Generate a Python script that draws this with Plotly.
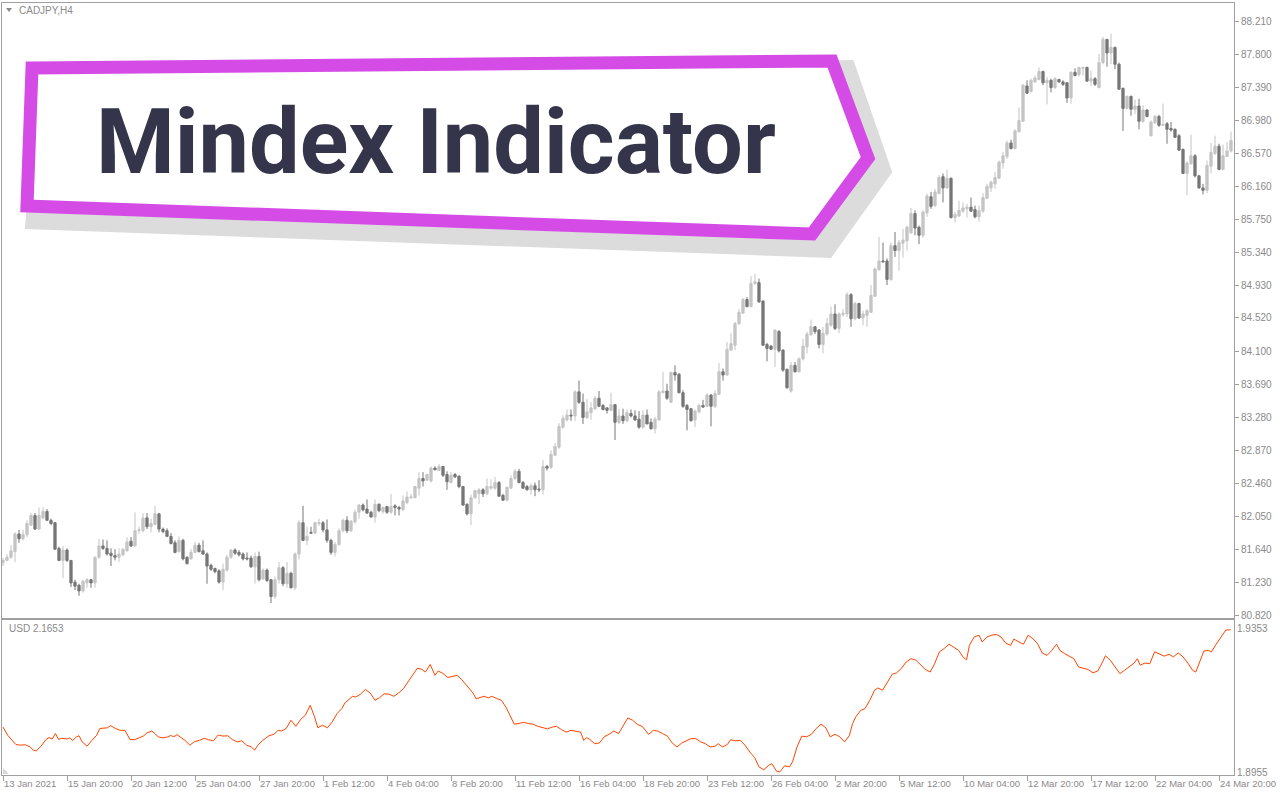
import plotly.graph_objects as go

W, H = 1280, 800

# ---------------- data ----------------
OPEN = [81.47,81.50,81.54,81.61,81.83,81.77,81.82,81.94,82.06,81.89,
        82.03,82.11,82.00,81.97,81.65,81.50,81.63,81.50,81.23,81.19,
        81.12,81.22,81.26,81.22,81.54,81.68,81.65,81.59,81.56,81.54,
        81.57,81.62,81.74,81.68,81.87,81.87,82.03,81.92,81.95,82.08,
        81.89,81.87,81.80,81.72,81.61,81.75,81.54,81.52,81.60,81.69,
        81.62,81.58,81.44,81.40,81.37,81.23,81.38,81.54,81.63,81.60,
        81.58,81.53,81.53,81.42,81.55,81.27,81.38,81.26,81.05,81.26,
        81.41,81.21,81.34,81.16,81.58,81.97,81.75,81.85,81.84,81.96,
        81.97,81.88,81.75,81.60,81.70,81.87,82.00,81.87,81.98,82.10,
        82.19,82.14,82.10,82.04,82.20,82.11,82.17,82.10,82.18,82.16,
        82.13,82.22,82.28,82.28,82.40,82.52,82.50,82.49,82.65,82.62,
        82.67,82.57,82.47,82.57,82.55,82.42,82.20,82.08,82.28,82.33,
        82.38,82.33,82.40,82.40,82.47,82.31,82.25,82.40,82.52,82.61,
        82.47,82.42,82.38,82.43,82.39,82.38,82.67,82.66,82.81,82.91,
        83.16,83.25,83.31,83.30,83.60,83.47,83.28,83.34,83.39,83.52,
        83.43,83.40,83.37,83.44,83.22,83.30,83.24,83.33,83.30,83.26,
        83.16,83.31,83.22,83.14,83.25,83.59,83.61,83.47,83.84,83.82,
        83.59,83.43,83.39,83.25,83.35,83.43,83.42,83.56,83.42,83.57,
        83.85,83.81,84.12,84.18,84.45,84.58,84.75,84.66,84.95,84.96,
        84.73,84.19,84.17,84.13,84.35,84.12,83.88,83.61,83.93,83.85,
        84.01,84.16,84.31,84.41,84.37,84.19,84.32,84.43,84.57,84.39,
        84.56,84.57,84.81,84.51,84.70,84.52,84.55,84.59,84.79,85.12,
        85.23,85.23,85.00,85.42,85.36,85.45,85.48,85.58,85.82,85.65,
        85.55,85.83,86.03,85.92,86.07,86.28,86.14,86.26,85.77,85.79,
        85.85,85.88,85.90,85.87,85.78,85.85,86.01,86.14,86.19,86.26,
        86.45,86.53,86.70,86.63,86.84,86.97,87.41,87.34,87.46,87.49,
        87.59,87.45,87.48,87.39,87.49,87.46,87.45,87.26,87.58,87.55,
        87.63,87.64,87.47,87.50,87.39,87.70,87.99,87.82,87.89,87.68,
        87.38,87.13,87.28,87.12,87.16,86.97,87.11,86.79,86.95,87.03,
        86.92,86.94,86.88,86.87,86.79,86.62,86.32,86.44,86.54,86.29,
        86.14,86.11,86.41,86.57,86.66,86.37,86.53,86.60]
HIGH = [81.53,81.58,81.69,81.85,81.88,81.88,82.00,82.09,82.09,82.16,
        82.16,82.14,82.02,81.98,81.67,81.68,81.65,81.50,81.26,81.21,
        81.26,81.28,81.27,81.55,81.77,81.76,81.75,81.65,81.64,81.65,
        81.65,81.79,81.79,82.10,81.92,82.09,82.09,82.02,82.18,82.09,
        81.91,81.90,81.84,81.75,81.80,81.77,81.55,81.64,81.73,81.72,
        81.75,81.60,81.46,81.41,81.39,81.46,81.57,81.64,81.65,81.63,
        81.60,81.60,81.56,81.60,81.61,81.40,81.40,81.27,81.30,81.48,
        81.43,81.48,81.36,81.60,82.00,82.18,81.92,81.92,81.98,82.02,
        81.99,82.01,81.77,81.73,81.90,82.02,82.05,82.00,82.13,82.20,
        82.21,82.26,82.12,82.26,82.21,82.17,82.18,82.33,82.20,82.18,
        82.31,82.36,82.33,82.43,82.60,82.60,82.58,82.67,82.67,82.70,
        82.67,82.61,82.60,82.59,82.56,82.42,82.21,82.32,82.38,82.40,
        82.40,82.52,82.51,82.54,82.49,82.33,82.42,82.56,82.64,82.64,
        82.49,82.44,82.46,82.47,82.50,82.75,82.69,82.87,82.96,83.21,
        83.31,83.38,83.38,83.62,83.74,83.58,83.51,83.47,83.55,83.61,
        83.45,83.41,83.59,83.45,83.39,83.39,83.38,83.38,83.37,83.36,
        83.37,83.38,83.27,83.29,83.62,83.85,83.70,83.85,83.93,83.83,
        83.62,83.45,83.40,83.38,83.45,83.50,83.58,83.57,83.62,83.96,
        83.89,84.22,84.33,84.47,84.63,84.77,84.78,85.04,85.07,85.01,
        84.74,84.21,84.18,84.38,84.37,84.13,83.89,83.97,83.97,84.03,
        84.26,84.35,84.50,84.42,84.38,84.41,84.52,84.66,84.69,84.59,
        84.63,84.84,84.83,84.72,84.71,84.61,84.63,84.93,85.15,85.53,
        85.46,85.26,85.46,85.59,85.49,85.63,85.67,85.89,85.86,85.67,
        85.86,86.07,86.09,86.13,86.30,86.32,86.37,86.27,85.84,85.98,
        85.96,85.94,86.02,85.92,85.92,86.07,86.19,86.23,86.34,86.48,
        86.59,86.73,86.74,86.87,87.14,87.43,87.48,87.50,87.54,87.64,
        87.60,87.52,87.50,87.52,87.50,87.48,87.46,87.59,87.63,87.65,
        87.65,87.65,87.60,87.52,87.81,88.02,87.99,88.06,87.90,87.70,
        87.39,87.29,87.29,87.24,87.25,87.17,87.12,86.98,87.05,87.05,
        87.19,86.96,86.96,86.88,86.81,86.63,86.47,86.80,86.56,86.30,
        86.19,86.48,86.70,86.79,86.69,86.68,86.71,86.84]
LOW = [81.43,81.49,81.52,81.48,81.72,81.75,81.79,81.93,81.88,81.89,
       82.01,81.99,81.94,81.63,81.49,81.28,81.48,81.17,81.13,81.06,
       81.10,81.16,81.16,81.16,81.52,81.63,81.56,81.43,81.50,81.48,
       81.55,81.61,81.67,81.68,81.83,81.85,81.89,81.85,81.94,81.85,
       81.84,81.79,81.70,81.59,81.60,81.50,81.45,81.51,81.59,81.60,
       81.57,81.21,81.37,81.34,81.21,81.13,81.36,81.52,81.57,81.55,
       81.50,81.50,81.41,81.21,81.24,81.26,81.23,80.97,81.02,81.21,
       81.18,81.16,81.15,81.13,81.51,81.74,81.69,81.84,81.83,81.93,
       81.85,81.72,81.57,81.55,81.68,81.85,81.84,81.85,81.96,82.02,
       82.11,82.08,82.04,81.97,82.10,82.08,82.08,82.08,82.06,82.06,
       82.12,82.20,82.27,82.28,82.31,82.42,82.49,82.47,82.62,82.62,
       82.54,82.38,82.46,82.53,82.40,82.18,82.06,81.94,82.27,82.20,
       82.29,82.31,82.38,82.38,82.29,82.24,82.25,82.39,82.50,82.46,
       82.39,82.37,82.32,82.30,82.35,82.32,82.62,82.64,82.80,82.89,
       83.14,83.23,83.24,83.24,83.45,83.20,83.26,83.25,83.37,83.41,
       83.37,83.33,83.36,83.00,83.20,83.20,83.22,83.28,83.24,83.14,
       83.14,83.20,83.13,83.08,83.24,83.58,83.50,83.47,83.74,83.58,
       83.40,83.12,83.23,83.16,83.33,83.40,83.41,83.17,83.40,83.56,
       83.74,83.80,84.11,84.12,84.43,84.57,84.66,84.66,84.93,84.71,
       84.18,83.98,84.12,83.91,84.09,83.85,83.64,83.59,83.84,83.84,
       83.99,84.08,84.30,84.32,84.14,84.08,84.30,84.41,84.37,84.33,
       84.54,84.53,84.41,84.49,84.51,84.43,84.41,84.58,84.78,85.11,
       85.21,84.93,84.98,85.28,85.11,85.27,85.36,85.57,85.55,85.44,
       85.52,85.78,85.88,85.90,86.06,85.96,86.13,85.76,85.71,85.78,
       85.83,85.77,85.84,85.76,85.72,85.83,86.00,86.09,86.13,86.25,
       86.38,86.50,86.62,86.63,86.83,86.96,87.31,87.33,87.45,87.48,
       87.42,87.18,87.33,87.37,87.45,87.41,87.20,87.19,87.53,87.53,
       87.54,87.46,87.41,87.41,87.38,87.68,87.65,87.68,87.62,87.36,
       86.85,87.12,87.04,87.06,86.87,86.95,87.02,86.78,86.94,86.90,
       86.92,86.69,86.84,86.76,86.60,86.32,86.05,86.43,86.27,86.13,
       86.06,86.07,86.32,86.55,86.36,86.36,86.53,86.58]
CLOSE = [81.50,81.54,81.62,81.83,81.77,81.82,81.96,82.06,81.89,82.06,
         82.11,82.00,81.96,81.64,81.50,81.63,81.50,81.22,81.18,81.12,
         81.24,81.26,81.22,81.54,81.68,81.65,81.58,81.56,81.54,81.58,
         81.64,81.73,81.68,81.87,81.88,82.03,81.92,81.96,82.08,81.89,
         81.86,81.80,81.71,81.60,81.75,81.52,81.46,81.60,81.69,81.61,
         81.58,81.43,81.39,81.36,81.23,81.39,81.54,81.63,81.59,81.57,
         81.52,81.52,81.42,81.55,81.26,81.38,81.25,81.05,81.26,81.41,
         81.21,81.34,81.16,81.58,81.97,81.75,81.80,81.84,81.97,81.97,
         81.88,81.75,81.60,81.70,81.87,82.00,81.87,81.99,82.10,82.19,
         82.13,82.09,82.04,82.20,82.12,82.16,82.10,82.17,82.16,82.14,
         82.24,82.29,82.29,82.42,82.52,82.49,82.57,82.65,82.63,82.67,
         82.56,82.48,82.56,82.54,82.42,82.19,82.08,82.28,82.37,82.38,
         82.33,82.42,82.42,82.47,82.30,82.25,82.41,82.52,82.61,82.47,
         82.40,82.38,82.43,82.38,82.38,82.67,82.65,82.82,82.92,83.17,
         83.27,83.31,83.30,83.60,83.47,83.28,83.35,83.40,83.52,83.42,
         83.38,83.37,83.44,83.22,83.30,83.24,83.34,83.30,83.25,83.16,
         83.31,83.20,83.14,83.26,83.60,83.61,83.52,83.84,83.81,83.59,
         83.42,83.38,83.24,83.36,83.43,83.41,83.56,83.42,83.58,83.85,
         83.81,84.13,84.20,84.45,84.59,84.75,84.66,84.95,84.97,84.72,
         84.18,84.14,84.13,84.37,84.11,83.87,83.65,83.93,83.85,84.01,
         84.17,84.32,84.41,84.35,84.19,84.33,84.45,84.57,84.39,84.57,
         84.58,84.81,84.51,84.70,84.52,84.57,84.61,84.80,85.13,85.23,
         85.22,85.00,85.42,85.36,85.46,85.49,85.65,85.82,85.64,85.55,
         85.84,86.04,85.91,86.09,86.27,86.14,86.26,85.77,85.81,85.86,
         85.89,85.90,85.85,85.78,85.86,86.02,86.16,86.21,86.27,86.46,
         86.54,86.70,86.63,86.85,86.98,87.42,87.32,87.48,87.51,87.59,
         87.45,87.48,87.39,87.50,87.46,87.43,87.26,87.58,87.54,87.64,
         87.64,87.47,87.50,87.43,87.70,87.99,87.82,87.89,87.68,87.37,
         87.13,87.28,87.12,87.16,86.97,87.11,87.03,86.96,87.03,86.92,
         86.93,86.87,86.86,86.77,86.61,86.32,86.45,86.54,86.29,86.14,
         86.11,86.42,86.58,86.66,86.37,86.54,86.60,86.73]
BAR = list(range(len(CLOSE)))

TICK_BARS = [0, 16, 32, 48, 64, 80, 96, 112, 128, 144, 160, 176, 192, 208,
             224, 240, 256, 272, 288, 304]
TICK_TEXT = ["13 Jan 2021", "15 Jan 20:00", "20 Jan 12:00", "25 Jan 04:00",
             "27 Jan 20:00", "1 Feb 12:00", "4 Feb 04:00", "8 Feb 20:00",
             "11 Feb 12:00", "16 Feb 04:00", "18 Feb 20:00", "23 Feb 12:00",
             "26 Feb 04:00", "2 Mar 20:00", "5 Mar 12:00", "10 Mar 04:00",
             "12 Mar 20:00", "17 Mar 12:00", "22 Mar 04:00", "24 Mar 20:00"]
PRICE_TICKS = [88.210, 87.800, 87.390, 86.980, 86.570, 86.160, 85.750, 85.340,
               84.930, 84.520, 84.100, 83.690, 83.280, 82.870, 82.460, 82.050,
               81.640, 81.230, 80.820]
IND_TICKS = [1.9353, 1.8955]

IND_X = [0.0,1.2,3.2,4.2,5.6,6.8,7.6,8.3,9.5,10.7,11.5,12.3,13.1,13.9,14.7,15.9,
         16.7,17.4,18.4,19.0,19.8,21.0,22.2,23.4,24.2,25.3,26.1,26.9,28.1,29.3,
         30.5,31.7,32.9,34.0,35.2,36.0,37.2,38.0,38.8,40.0,41.2,41.9,42.7,43.5,
         44.3,45.5,46.7,47.9,49.1,50.3,51.4,52.6,53.8,55.0,56.2,57.4,58.6,59.7,
         60.9,62.1,62.9,63.7,64.9,66.5,67.7,68.8,69.6,70.8,72.0,73.2,74.4,75.6,
         76.8,77.9,78.7,79.9,81.1,82.3,83.5,84.7,85.5,86.2,87.4,88.2,89.4,90.6,
         91.8,93.0,94.1,95.3,96.5,97.7,98.9,100.1,101.3,102.5,103.6,104.8,105.6,
         106.8,108.0,108.8,110.0,111.2,112.3,113.5,114.7,115.5,116.7,117.5,118.3,
         119.1,120.2,121.4,122.2,123.4,124.6,125.8,126.6,127.8,129.0,130.1,131.3,
         132.5,133.7,134.9,136.1,137.3,138.4,139.6,140.8,142.0,143.2,144.4,145.2,
         145.9,146.7,147.9,149.1,150.3,151.5,152.7,153.9,155.0,156.2,157.4,158.6,
         159.8,161.4,162.6,163.7,164.9,166.1,167.3,168.5,169.7,170.9,172.0,173.2,
         174.4,175.6,176.8,178.0,178.8,179.9,181.1,181.9,183.1,184.3,185.5,186.7,
         187.9,189.0,190.2,191.4,192.2,193.4,194.2,195.4,196.6,197.4,198.5,199.7,
         200.9,202.1,203.3,204.5,205.7,206.8,208.0,209.2,210.4,211.6,212.4,213.2,
         214.4,215.5,216.7,217.9,218.7,219.9,221.1,222.3,223.4,224.6,225.8,227.0,
         228.2,229.4,230.6,231.8,232.9,234.1,235.3,236.5,237.7,238.9,240.1,240.9,
         241.6,242.8,244.0,244.8,246.0,247.2,248.4,249.5,250.7,251.9,252.7,253.9,
         255.1,256.3,257.5,258.6,259.8,261.0,262.2,263.4,264.2,265.4,266.6,267.7,
         268.9,270.1,271.3,272.5,273.7,274.9,275.6,276.8,278.0,279.2,280.4,281.6,
         282.8,283.6,284.3,285.5,286.7,287.9,289.1,290.3,291.5,292.6,293.8,295.0,
         296.2,297.4,298.2,299.4,300.2,301.3,302.1,303.3,304.5,305.7,306.9]
IND_V = [1.9080,1.9057,1.9032,1.9030,1.9031,1.9025,1.9016,1.9014,1.9027,1.9045,
         1.9051,1.9047,1.9062,1.9046,1.9049,1.9047,1.9050,1.9043,1.9053,1.9056,
         1.9039,1.9027,1.9043,1.9057,1.9076,1.9077,1.9078,1.9084,1.9076,1.9071,
         1.9071,1.9046,1.9045,1.9050,1.9056,1.9064,1.9069,1.9062,1.9053,1.9050,
         1.9053,1.9057,1.9053,1.9059,1.9053,1.9043,1.9030,1.9040,1.9043,1.9049,
         1.9045,1.9042,1.9058,1.9055,1.9056,1.9045,1.9039,1.9042,1.9030,1.9025,
         1.9016,1.9030,1.9043,1.9056,1.9060,1.9071,1.9069,1.9076,1.9099,1.9082,
         1.9101,1.9113,1.9140,1.9108,1.9078,1.9085,1.9078,1.9094,1.9117,1.9131,
         1.9147,1.9154,1.9165,1.9163,1.9171,1.9184,1.9174,1.9154,1.9161,1.9172,
         1.9171,1.9165,1.9174,1.9186,1.9205,1.9226,1.9243,1.9239,1.9232,1.9253,
         1.9223,1.9235,1.9228,1.9217,1.9219,1.9223,1.9211,1.9200,1.9182,1.9174,
         1.9158,1.9161,1.9165,1.9161,1.9165,1.9159,1.9154,1.9134,1.9117,1.9088,
         1.9090,1.9093,1.9090,1.9088,1.9082,1.9078,1.9075,1.9080,1.9082,1.9073,
         1.9066,1.9071,1.9069,1.9066,1.9043,1.9051,1.9046,1.9034,1.9036,1.9053,
         1.9060,1.9069,1.9062,1.9082,1.9105,1.9099,1.9087,1.9082,1.9060,1.9071,
         1.9069,1.9062,1.9055,1.9036,1.9025,1.9036,1.9042,1.9048,1.9048,1.9039,
         1.9034,1.9025,1.9027,1.9034,1.9025,1.9032,1.9045,1.9042,1.9043,1.9030,
         1.9011,1.8996,1.8970,1.8962,1.8974,1.8979,1.8958,1.8956,1.8973,1.8970,
         1.8984,1.9025,1.9055,1.9053,1.9060,1.9076,1.9088,1.9078,1.9053,1.9060,
         1.9053,1.9039,1.9057,1.9090,1.9108,1.9126,1.9131,1.9154,1.9182,1.9188,
         1.9182,1.9205,1.9226,1.9230,1.9242,1.9260,1.9269,1.9265,1.9251,1.9239,
         1.9232,1.9255,1.9288,1.9297,1.9309,1.9300,1.9292,1.9272,1.9266,1.9306,
         1.9329,1.9334,1.9315,1.9329,1.9334,1.9336,1.9329,1.9312,1.9306,1.9323,
         1.9315,1.9309,1.9334,1.9324,1.9311,1.9285,1.9278,1.9292,1.9309,1.9292,
         1.9283,1.9276,1.9269,1.9246,1.9242,1.9239,1.9230,1.9235,1.9260,1.9277,
         1.9265,1.9246,1.9228,1.9237,1.9248,1.9257,1.9269,1.9251,1.9257,1.9255,
         1.9288,1.9283,1.9276,1.9281,1.9274,1.9285,1.9274,1.9257,1.9237,1.9232,
         1.9265,1.9290,1.9292,1.9288,1.9309,1.9329,1.9348,1.9349]

# ---------------- styling ----------------
BULL = "#c4c4c4"
BEAR = "#767676"
FRAME = "#a0a0a0"
TXT = "#8a8a8a"
IND_COLOR = "#ff4500"
MAGENTA = "#d54be6"
SHADOW = "#dcdcdc"
TITLE_COLOR = "#34344a"

# plotting area in pixels: x 2..1234, y 3..775
ML, MR, MT, MB = 2, 46, 3, 25
PW = W - ML - MR
PH = H - MT - MB


def px(xp):
    return (xp - ML) / PW


def py(yp):
    return (H - MB - yp) / PH


def path(points):
    return "M " + " L ".join(f"{px(a):.5f},{py(b):.5f}" for a, b in points) + " Z"


fig = go.Figure()
fig.add_trace(go.Candlestick(
    x=BAR, open=OPEN, high=HIGH, low=LOW, close=CLOSE,
    increasing=dict(line=dict(color=BULL, width=1), fillcolor=BULL),
    decreasing=dict(line=dict(color=BEAR, width=1), fillcolor=BEAR),
    whiskerwidth=0, xaxis="x", yaxis="y", showlegend=False, hoverinfo="skip"))
fig.add_trace(go.Scatter(
    x=IND_X, y=IND_V, mode="lines", line=dict(color=IND_COLOR, width=1),
    xaxis="x2", yaxis="y2", showlegend=False, hoverinfo="skip"))

main_dom = [(H - MB - 618) / PH, 1.0]
ind_dom = [0.0, (H - MB - 620) / PH]
xr = [-0.25, len(CLOSE) - 0.25]

axis_common = dict(showgrid=False, zeroline=False, showline=True,
                   linecolor=FRAME, linewidth=1, mirror=True)
tickfont = dict(family="Liberation Sans", size=10, color=TXT)
xtickfont = dict(family="Liberation Sans", size=9.5, color=TXT)

fig.update_layout(
    width=W, height=H,
    margin=dict(l=ML, r=MR, t=MT, b=MB, pad=0, autoexpand=False),
    paper_bgcolor="white", plot_bgcolor="white",
    showlegend=False,
    boxgap=0.2,
    xaxis=dict(domain=[0, 1], range=xr, anchor="y", showticklabels=False,
               ticks="", rangeslider=dict(visible=False), **axis_common),
    yaxis=dict(domain=main_dom, range=[80.783, 88.443], side="right",
               anchor="x", tickvals=PRICE_TICKS,
               ticktext=[f"{v:.3f}" for v in PRICE_TICKS],
               ticks="outside", ticklen=4, tickcolor=FRAME, tickfont=tickfont,
               **axis_common),
    xaxis2=dict(domain=[0, 1], range=xr, anchor="y2", matches="x",
                tickvals=TICK_BARS, ticktext=TICK_TEXT, ticks="outside",
                ticklen=5, tickcolor=FRAME, tickfont=xtickfont, tickangle=0,
                ticklabelposition="outside right",
                rangeslider=dict(visible=False), **axis_common),
    yaxis2=dict(domain=ind_dom, range=[1.89475, 1.93759], side="right",
                anchor="x2", tickvals=IND_TICKS,
                ticktext=[f"{v:.4f}" for v in IND_TICKS], ticks="",
                tickfont=tickfont, **axis_common),
)

# banner: shadow, magenta frame, title; small chart-window glyphs
shapes = [
    dict(type="path", xref="paper", yref="paper", layer="above",
         path=path([(40, 80), (852, 62), (890, 172), (830, 256), (27, 227)]),
         fillcolor=SHADOW, line=dict(color=SHADOW, width=4)),
    dict(type="path", xref="paper", yref="paper", layer="above",
         path=path([(32, 68), (832, 61), (868, 158), (812, 234), (27, 206)]),
         fillcolor="white", line=dict(color=MAGENTA, width=13)),
    dict(type="path", xref="paper", yref="paper", layer="above",
         path=path([(6, 8), (12, 8), (9, 12)]),
         fillcolor=TXT, line=dict(color=TXT, width=0)),
    dict(type="path", xref="paper", yref="paper", layer="above",
         path=path([(3, 768), (3, 774), (9, 774)]),
         fillcolor="#d8d8d8", line=dict(color="#d8d8d8", width=0)),
]
fig.update_layout(shapes=shapes)

fig.add_annotation(xref="paper", yref="paper", x=px(436), y=py(143),
                   text="Mindex Indicator", showarrow=False,
                   xanchor="center", yanchor="middle",
                   font=dict(family="Roboto", size=90, color=TITLE_COLOR, weight=700))
fig.add_annotation(xref="paper", yref="paper", x=px(17), y=py(10),
                   text="CADJPY,H4", showarrow=False, xanchor="left", yanchor="middle",
                   font=dict(family="Liberation Sans", size=10, color=TXT))
fig.add_annotation(xref="paper", yref="paper", x=px(7), y=py(628),
                   text="USD 2.1653", showarrow=False, xanchor="left", yanchor="middle",
                   font=dict(family="Liberation Sans", size=10, color=TXT))

fig.write_html("out.html", config={"displayModeBar": False},
               post_script="document.body.style.margin='0';")
